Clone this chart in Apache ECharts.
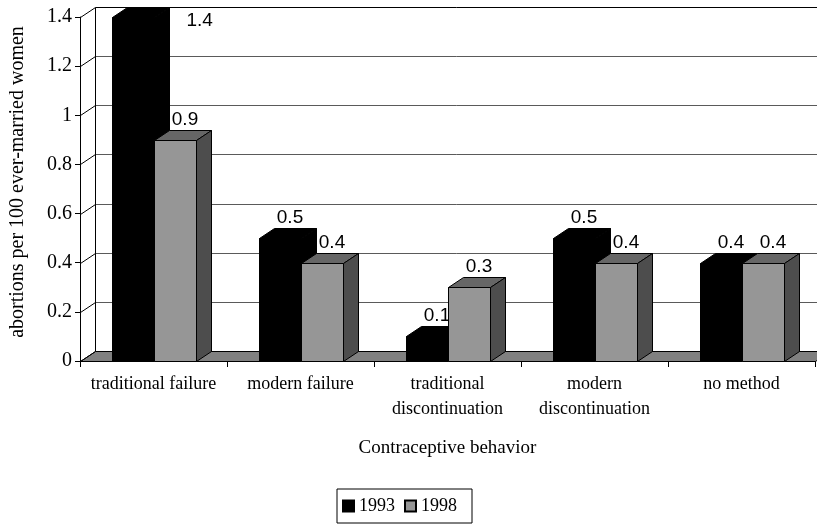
<!DOCTYPE html>
<html>
<head>
<meta charset="utf-8">
<script src="https://cdn.jsdelivr.net/npm/echarts@6/dist/echarts.min.js"></script>
<style>
  html, body { margin: 0; padding: 0; background: #fff; }
  #chart { width: 817px; height: 529px; }
</style>
</head>
<body>
<div id="chart"></div>
<script>
// Abortions per 100 ever-married women by contraceptive behavior
const categories = [
  'traditional failure',
  'modern failure',
  'traditional\ndiscontinuation',
  'modern\ndiscontinuation',
  'no method'
];
const years = ['1993', '1998'];
const values1993 = [1.4, 0.5, 0.1, 0.5, 0.4];
const values1998 = [0.9, 0.4, 0.3, 0.4, 0.4];
const yTicks = [0, 0.2, 0.4, 0.6, 0.8, 1.0, 1.2, 1.4];

// Pseudo-3D depth offset (pixels)
const DX = 15, DY = -10;
const SERIF = '"Liberation Serif", "Times New Roman", serif';
const SANS = '"Liberation Sans", Arial, sans-serif';

const faces = [
  { front: '#000000', top: '#000000', side: '#000000' },
  { front: '#969696', top: '#666666', side: '#4d4d4d' }
];

const px = v => Math.round(v) + 0.5;

// Back wall gridlines, side-wall diagonals and the floor
function wallItem(params, api) {
  const cs = params.coordSys;
  const v = api.value(1);
  const y = px(api.coord([0, v])[1]);
  const L = px(cs.x), R = px(cs.x + cs.width);
  const isTop = v === yTicks[yTicks.length - 1];
  const children = [];
  if (v === 0) {
    children.push({
      type: 'polygon',
      shape: { points: [[L, y], [R, y], [R + DX, y + DY], [L + DX, y + DY]] },
      style: { fill: '#808080', stroke: '#000', lineWidth: 1 }
    });
  } else {
    children.push({
      type: 'line',
      shape: { x1: L + DX, y1: y + DY, x2: R + DX, y2: y + DY },
      style: { stroke: isTop ? '#000' : '#5a5a5a', lineWidth: 1 }
    });
  }
  children.push({
    type: 'line',
    shape: { x1: L, y1: y, x2: L + DX, y2: y + DY },
    style: { stroke: '#000', lineWidth: 1 }
  });
  if (isTop) {
    const y0 = px(api.coord([0, 0])[1]);
    children.push({
      type: 'line',
      shape: { x1: L + DX, y1: y + DY, x2: L + DX, y2: y0 + DY },
      style: { stroke: '#000', lineWidth: 1 }
    });
  }
  return { type: 'group', children };
}

// Column with front, top and side faces plus its value label
function barItem(s) {
  return function (params, api) {
    const idx = api.value(0), v = api.value(1);
    const base = api.coord([idx, 0]);
    const top = api.coord([idx, v]);
    const band = api.size([1, 0])[0];
    const bw = band / 3.5;
    const x0 = Math.round(base[0] - bw + s * bw) + 0.5;
    const x1 = Math.round(base[0] + s * bw) + 0.5;
    const yb = px(base[1]), yt = px(top[1]);
    const f = faces[s];
    let lx = (x0 + x1) / 2 + DX / 2 + 2, ly = yt + DY - 1, align = 'center', va = 'bottom';
    if (ly - 20 < 0) {
      // no room above the wall: set the label beside the column
      lx = x1 + DX + 17; ly = yt + DY + 13; align = 'left'; va = 'middle';
    }
    return {
      type: 'group',
      children: [
        { type: 'rect', shape: { x: x0, y: yt, width: x1 - x0, height: yb - yt },
          style: { fill: f.front, stroke: '#000', lineWidth: 1 } },
        { type: 'polygon', shape: { points: [[x0, yt], [x1, yt], [x1 + DX, yt + DY], [x0 + DX, yt + DY]] },
          style: { fill: f.top, stroke: '#000', lineWidth: 1 } },
        { type: 'polygon', shape: { points: [[x1, yt], [x1 + DX, yt + DY], [x1 + DX, yb + DY], [x1, yb]] },
          style: { fill: f.side, stroke: '#000', lineWidth: 1 } },
        { type: 'text',
          style: { text: v.toFixed(1), x: lx, y: ly, align: align, verticalAlign: va,
                   fontSize: 19, fontFamily: SANS, fill: '#000' } }
      ]
    };
  };
}

const chart = echarts.init(document.getElementById('chart'), null, { renderer: 'canvas' });

chart.setOption({
  animation: false,
  backgroundColor: '#fff',
  grid: { left: 80, right: 2, top: 17, bottom: 168, containLabel: false, outerBoundsMode: 'none' },
  legend: {
    data: years,
    left: 337, top: 489,
    orient: 'horizontal',
    icon: 'rect',
    itemWidth: 11, itemHeight: 11, itemGap: 9,
    padding: [8, 15, 8, 5],
    borderColor: '#000', borderWidth: 1,
    textStyle: { fontFamily: SERIF, fontSize: 18, color: '#000' }
  },
  xAxis: {
    type: 'category',
    data: categories,
    boundaryGap: true,
    name: 'Contraceptive behavior',
    nameLocation: 'middle',
    nameGap: 78,
    nameTextStyle: { fontFamily: SERIF, fontSize: 19, color: '#000' },
    axisLine: { show: true, lineStyle: { color: '#000', width: 1 } },
    axisTick: { show: true, length: 6, alignWithLabel: false, lineStyle: { color: '#000' } },
    axisLabel: { fontFamily: SERIF, fontSize: 18, color: '#000', lineHeight: 25, margin: 11, interval: 0 },
    splitLine: { show: false }
  },
  yAxis: {
    type: 'value',
    min: 0, max: 1.4, interval: 0.2,
    name: 'abortions per 100 ever-married women',
    nameLocation: 'middle',
    nameGap: 52,
    nameTextStyle: { fontFamily: SERIF, fontSize: 20, color: '#000', padding: [0, 0, 0, 14] },
    axisLine: { show: true, lineStyle: { color: '#000', width: 1 } },
    axisTick: { show: true, length: 5, lineStyle: { color: '#000' } },
    axisLabel: { fontFamily: SERIF, fontSize: 20, color: '#000', margin: 8 },
    splitLine: { show: false }
  },
  series: [
    {
      name: 'wall',
      type: 'custom',
      renderItem: wallItem,
      data: yTicks.map(v => [0, v]),
      encode: { x: 0, y: 1 },
      silent: true,
      z: 1
    },
    {
      name: years[0],
      type: 'custom',
      renderItem: barItem(0),
      data: values1993.map((v, i) => [i, v]),
      encode: { x: 0, y: 1 },
      itemStyle: { color: faces[0].front, borderColor: '#000', borderWidth: 1 },
      z: 2
    },
    {
      name: years[1],
      type: 'custom',
      renderItem: barItem(1),
      data: values1998.map((v, i) => [i, v]),
      encode: { x: 0, y: 1 },
      itemStyle: { color: faces[1].front, borderColor: '#000', borderWidth: 1 },
      z: 2
    }
  ]
});
</script>
</body>
</html>
